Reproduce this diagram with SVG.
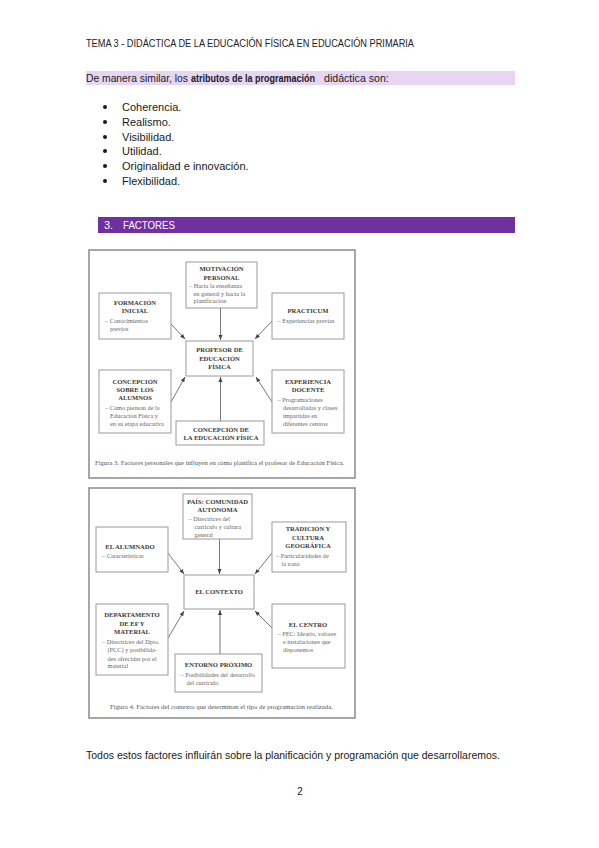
<svg xmlns="http://www.w3.org/2000/svg" width="599" height="848" viewBox="0 0 599 848">
<defs>
<style>
.page{font-family:"Liberation Sans","DejaVu Sans",sans-serif;fill:#1a1a1a}
.hdr{font-size:10px;fill:#222}
.body{font-size:11px}
.intro{font-size:10.6px}
.introb{font-size:10px;font-weight:bold}
.frame{fill:#fff;stroke:#8a8a8a;stroke-width:1.5}
.box{fill:#fff;stroke:#9a9a9a;stroke-width:1}
.t{font-family:"Liberation Serif","DejaVu Serif",serif;font-size:6.6px;font-weight:bold;fill:#3a3a3a;text-anchor:middle}
.d{font-family:"Liberation Serif","DejaVu Serif",serif;font-size:6.3px;fill:#666}
.cap{font-family:"Liberation Serif","DejaVu Serif",serif;font-size:6.4px;fill:#555}
.conn line{stroke:#777;stroke-width:1;marker-end:url(#ah)}
</style>
<marker id="ah" viewBox="0 0 10 10" refX="10" refY="5" markerWidth="5" markerHeight="5" orient="auto" markerUnits="userSpaceOnUse">
<path d="M0,1 L10,5 L0,9 z" fill="#444"/>
</marker>
</defs>
<rect width="599" height="848" fill="#fff"/>

<g id="header" class="page">
<text class="hdr" x="86" y="47" textLength="328" lengthAdjust="spacingAndGlyphs">TEMA 3 - DIDÁCTICA DE LA EDUCACIÓN FÍSICA EN EDUCACIÓN PRIMARIA</text>
</g>

<g id="intro" class="page">
<rect x="86" y="71" width="429" height="14" fill="#e6d6f3"/>
<text class="intro" x="86" y="82" textLength="102" lengthAdjust="spacingAndGlyphs">De manera similar, los</text>
<text class="introb" x="191" y="82" textLength="124" lengthAdjust="spacingAndGlyphs">atributos de la programación</text>
<text class="intro" x="324" y="82" font-size="11">didáctica son:</text>
</g>

<g id="list" class="page body">
<circle cx="105" cy="107" r="2" fill="#1a1a1a"/><text x="122" y="111">Coherencia.</text>
<circle cx="105" cy="122" r="2" fill="#1a1a1a"/><text x="122" y="126">Realismo.</text>
<circle cx="105" cy="137" r="2" fill="#1a1a1a"/><text x="122" y="141">Visibilidad.</text>
<circle cx="105" cy="151" r="2" fill="#1a1a1a"/><text x="122" y="155">Utilidad.</text>
<circle cx="105" cy="166" r="2" fill="#1a1a1a"/><text x="122" y="170">Originalidad e innovación.</text>
<circle cx="105" cy="181" r="2" fill="#1a1a1a"/><text x="122" y="185">Flexibilidad.</text>
</g>

<g id="section" class="page">
<rect x="98" y="217" width="417" height="16" fill="#7030a0"/>
<text x="104" y="229" font-size="11" style="fill:#fff">3.</text>
<text x="123" y="229" font-size="11" style="fill:#fff" textLength="52" lengthAdjust="spacingAndGlyphs">FACTORES</text>
</g>

<!-- Figure 3 -->
<rect id="fig3-frame" class="frame" x="89" y="250" width="266" height="228"/>

<g class="conn" id="fig3-connectors">
<line x1="171" y1="324" x2="185" y2="339"/>
<line x1="220.5" y1="308" x2="220.5" y2="340"/>
<line x1="273" y1="320" x2="255" y2="339"/>
<line x1="171" y1="402" x2="185" y2="377"/>
<line x1="220.5" y1="421" x2="220.5" y2="377"/>
<line x1="272" y1="402" x2="256" y2="377"/>
</g>

<g id="motivacion">
<rect class="box" x="186" y="262" width="71" height="46"/>
<text class="t" x="221.5" y="271">MOTIVACIÓN</text>
<text class="t" x="221.5" y="279.5">PERSONAL</text>
<text class="d" x="189" y="288">– Hacia la enseñanza</text>
<text class="d" x="193.5" y="295.5">en general y hacia la</text>
<text class="d" x="193.5" y="303">planificación</text>
</g>

<g id="formacion">
<rect class="box" x="99" y="293" width="72" height="46"/>
<text class="t" x="135" y="304.5">FORMACIÓN</text>
<text class="t" x="135" y="313">INICIAL</text>
<text class="d" x="105" y="323">– Conocimientos</text>
<text class="d" x="110" y="331">previos</text>
</g>

<g id="practicum">
<rect class="box" x="272" y="293" width="72" height="46"/>
<text class="t" x="308" y="313">PRACTICUM</text>
<text class="d" x="277.5" y="323">– Experiencias previas</text>
</g>

<g id="profesor">
<rect class="box" x="186" y="341" width="67" height="35"/>
<text class="t" x="219.5" y="352">PROFESOR DE</text>
<text class="t" x="219.5" y="360.5">EDUCACIÓN</text>
<text class="t" x="219.5" y="369">FÍSICA</text>
</g>

<g id="concepcion-alumnos">
<rect class="box" x="99" y="370" width="72" height="63"/>
<text class="t" x="135" y="384">CONCEPCIÓN</text>
<text class="t" x="135" y="392">SOBRE LOS</text>
<text class="t" x="135" y="400">ALUMNOS</text>
<text class="d" x="105" y="409.5">– Cómo piensan de la</text>
<text class="d" x="110" y="417.5">Educación Física y</text>
<text class="d" x="110" y="425.5">en su etapa educativa</text>
</g>

<g id="experiencia">
<rect class="box" x="272" y="370" width="72" height="63"/>
<text class="t" x="308" y="384">EXPERIENCIA</text>
<text class="t" x="308" y="392">DOCENTE</text>
<text class="d" x="277.5" y="402">– Programaciones</text>
<text class="d" x="283" y="410">desarrolladas y clases</text>
<text class="d" x="283" y="417.5">impartidas en</text>
<text class="d" x="283" y="425.5">diferentes centros</text>
</g>

<g id="concepcion-ef">
<rect class="box" x="176" y="421" width="88" height="24"/>
<text class="t" x="221" y="431.5">CONCEPCIÓN DE</text>
<text class="t" x="221" y="439.5">LA EDUCACIÓN FÍSICA</text>
</g>

<text id="fig3-caption" class="cap" x="95" y="465" textLength="249" lengthAdjust="spacingAndGlyphs">Figura 3. Factores personales que influyen en cómo planifica el profesor de Educación Física.</text>

<!-- Figure 4 -->
<rect id="fig4-frame" class="frame" x="89" y="488" width="266" height="230"/>

<g class="conn" id="fig4-connectors">
<line x1="168" y1="553" x2="184" y2="574"/>
<line x1="219.5" y1="539" x2="219.5" y2="574"/>
<line x1="272" y1="553" x2="255" y2="574"/>
<line x1="168" y1="638" x2="184" y2="611"/>
<line x1="220" y1="654" x2="220" y2="610"/>
<line x1="272" y1="628" x2="255" y2="611"/>
</g>

<g id="pais">
<rect class="box" x="183" y="494" width="69" height="45"/>
<text class="t" x="217.5" y="504">PAÍS: COMUNIDAD</text>
<text class="t" x="217.5" y="511.5">AUTÓNOMA</text>
<text class="d" x="188.5" y="520.5">– Directrices del</text>
<text class="d" x="194.5" y="529">currículo y cultura</text>
<text class="d" x="194.5" y="537">general</text>
</g>

<g id="alumnado">
<rect class="box" x="96" y="527" width="72" height="45"/>
<text class="t" x="130" y="549">EL ALUMNADO</text>
<text class="d" x="102" y="558">– Características</text>
</g>

<g id="tradicion">
<rect class="box" x="272" y="522" width="74" height="50"/>
<text class="t" x="308" y="531">TRADICIÓN Y</text>
<text class="t" x="308" y="539.5">CULTURA</text>
<text class="t" x="308" y="548">GEOGRÁFICA</text>
<text class="d" x="276" y="558">– Particularidades de</text>
<text class="d" x="281.5" y="565.5">la zona</text>
</g>

<g id="contexto">
<rect class="box" x="184" y="575" width="70" height="34"/>
<text class="t" x="219" y="594">EL CONTEXTO</text>
</g>

<g id="departamento">
<rect class="box" x="96" y="604" width="72" height="71"/>
<text class="t" x="132" y="617">DEPARTAMENTO</text>
<text class="t" x="132" y="625.5">DE EF Y</text>
<text class="t" x="132" y="634">MATERIAL</text>
<text class="d" x="102" y="644">– Directrices del Dpto.</text>
<text class="d" x="107.5" y="652">(PCC) y posibilida-</text>
<text class="d" x="107.5" y="660.5">des ofrecidas por el</text>
<text class="d" x="107.5" y="668">material</text>
</g>

<g id="centro">
<rect class="box" x="272" y="604" width="73" height="64"/>
<text class="t" x="308" y="626.5">EL CENTRO</text>
<text class="d" x="277.5" y="636">– PEC: Ideario, valores</text>
<text class="d" x="283" y="644">e instalaciones que</text>
<text class="d" x="283" y="652">disponemos</text>
</g>

<g id="entorno">
<rect class="box" x="175" y="654" width="87" height="38"/>
<text class="t" x="218.5" y="666.5">ENTORNO PRÓXIMO</text>
<text class="d" x="180.5" y="676.5">– Posibilidades del desarrollo</text>
<text class="d" x="186.5" y="684.5">del currículo</text>
</g>

<text id="fig4-caption" class="cap" x="110" y="709" textLength="223" lengthAdjust="spacingAndGlyphs">Figura 4. Factores del contexto que determinan el tipo de programación realizada.</text>

<g id="footer" class="page">
<text class="body" x="86" y="759" textLength="414" lengthAdjust="spacingAndGlyphs">Todos estos factores influirán sobre la planificación y programación que desarrollaremos.</text>
<text x="300" y="795" font-size="10" text-anchor="middle">2</text>
</g>
</svg>
